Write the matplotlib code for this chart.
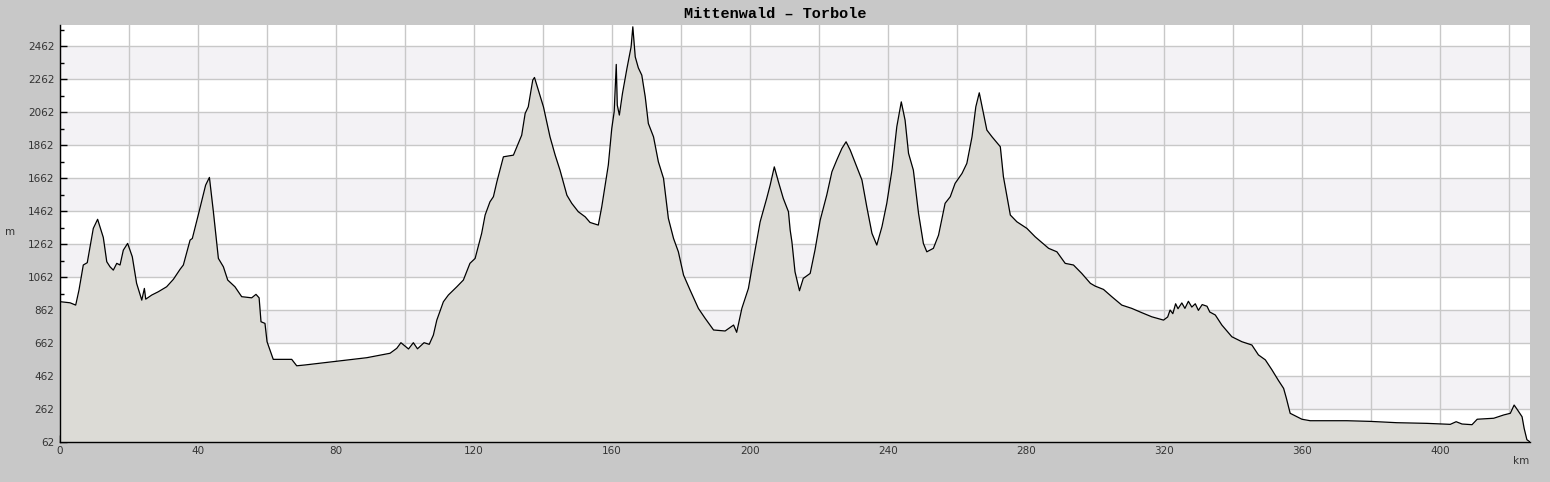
import matplotlib
matplotlib.use("Agg")
import matplotlib.pyplot as plt
from matplotlib.ticker import FixedLocator

# elevation profile (km, m)
km = [0.0, 0.3, 2.9, 4.55, 5.5, 6.75, 7.9, 8.7, 9.65, 10.9, 12.55, 13.55, 14.5, 15.45,
      16.45, 17.4, 18.35, 19.6, 20.95, 22.2, 23.7, 24.45, 24.85, 26.6, 28.5, 30.9,
      32.85, 34.8, 35.75, 37.7, 38.35, 40.3, 42.2, 43.3, 44.45, 45.9, 47.35, 48.6,
      50.7, 52.65, 55.55, 56.8, 57.7, 58.25, 59.4, 60.0, 61.8, 67.15, 68.6, 71.0,
      79.2, 88.9, 95.65, 97.6, 98.8, 101.0, 102.4, 103.6, 105.5, 107.0, 108.2,
      109.2, 111.1, 112.55, 115.0, 116.9, 118.8, 120.3, 122.2, 123.2, 124.6, 125.6,
      126.6, 128.5, 131.4, 133.8, 134.8, 135.7, 137.0, 137.5, 140.1, 142.0, 143.5,
      144.9, 146.9, 148.3, 150.2, 152.2, 153.6, 156.0, 157.0, 158.0, 158.9, 159.9,
      160.6, 161.2, 161.5, 162.1, 163.0, 164.3, 165.5, 166.0, 166.7, 167.6, 168.6,
      169.6, 170.5, 172.0, 173.4, 174.9, 176.3, 177.8, 179.2, 180.7, 182.6, 185.0,
      186.95, 189.4, 192.75, 195.2, 196.1, 197.6, 199.5, 201.0, 202.9, 204.8,
      205.8, 207.0, 208.2, 209.6, 211.1, 211.6, 212.1, 213.0, 214.3, 215.4, 217.4,
      218.8, 220.3, 222.2, 223.7, 225.1, 226.6, 227.8, 229.0, 230.9, 232.4, 233.8,
      235.3, 236.7, 238.2, 239.6, 241.1, 242.5, 243.8, 244.9, 245.9, 247.3, 248.8,
      250.2, 251.2, 253.1, 254.6, 256.5, 258.0, 259.4, 261.4, 262.8, 264.3, 265.4,
      266.4, 267.6, 268.6, 270.1, 272.5, 273.4, 275.4, 277.3, 280.2, 282.6, 286.5,
      288.9, 291.3, 293.7, 296.1, 298.6, 300.0, 302.4, 304.8, 307.7, 310.6, 313.5,
      316.4, 319.8, 321.0, 321.7, 322.5, 323.3, 324.0, 325.1, 326.0, 327.0, 328.0,
      329.0, 329.9, 331.0, 332.4, 333.2, 334.8, 336.7, 339.6, 342.5, 345.4, 347.3,
      349.3, 351.2, 353.1, 354.6, 355.4, 356.5, 358.0, 359.9, 362.3, 368.1, 372.9,
      379.7, 387.4, 396.1, 402.9, 404.6, 406.3, 409.2, 410.7, 415.5, 418.4, 420.3,
      421.4, 422.4, 423.7, 424.3, 425.1, 425.9]
elev = [912, 912, 906, 892, 983, 1135, 1149, 1245, 1357, 1412, 1302, 1155, 1124, 1104,
        1145, 1135, 1225, 1266, 1185, 1024, 922, 993, 928, 953, 973, 1003,
        1048, 1109, 1135, 1286, 1296, 1458, 1619, 1666, 1458, 1175, 1124, 1044,
        1003, 943, 936, 957, 936, 791, 781, 670, 563, 563, 524, 529,
        549, 573, 600, 630, 664, 626, 664, 627, 664, 654, 710,
        801, 912, 953, 1003, 1044, 1145, 1175, 1327, 1438, 1518, 1549,
        1639, 1791, 1801, 1922, 2054, 2094, 2256, 2272, 2094, 1912, 1801,
        1710, 1558, 1509, 1458, 1427, 1393, 1377, 1488, 1619, 1741, 1963,
        2064, 2351, 2104, 2044, 2175, 2327, 2457, 2579, 2397, 2330, 2286,
        2154, 1993, 1912, 1761, 1660, 1418, 1296, 1215, 1074, 983, 872,
        812, 741, 735, 771, 727, 872, 993, 1175, 1397, 1539,
        1619, 1730, 1639, 1539, 1458, 1347, 1276, 1094, 979, 1054, 1084,
        1226, 1407, 1559, 1700, 1771, 1842, 1882, 1832, 1730, 1650, 1488,
        1327, 1256, 1367, 1509, 1710, 1973, 2124, 2013, 1812, 1710, 1448,
        1266, 1215, 1236, 1316, 1509, 1549, 1630, 1690, 1751, 1912, 2094,
        2179, 2054, 1953, 1912, 1852, 1670, 1438, 1397, 1357, 1306, 1236,
        1215, 1145, 1135, 1084, 1024, 1007, 987, 943, 892, 872, 846,
        821, 801, 820, 862, 840, 900, 870, 905, 872, 915, 880,
        900, 860, 895, 885, 850, 832, 771, 700, 670, 650, 590,
        560, 500, 435, 387, 327, 236, 220, 200, 191, 191, 191,
        187, 179, 175, 169, 185, 171, 167, 200, 206, 226, 236,
        286, 256, 215, 145, 76, 64]

title = "Mittenwald \u2013 Torbole"
y_ticks = list(range(62, 2590, 200))
x_ticks = list(range(0, 426, 20))
x_labels = [str(v) if v % 40 == 0 else "" for v in x_ticks]

fig = plt.figure(figsize=(15.5, 4.82), dpi=100, facecolor="#c8c8c8")
ax = fig.add_axes([60 / 1550, 40 / 482, 1470 / 1550, 417 / 482])
ax.set_facecolor("white")

# alternating horizontal bands
for i, lo in enumerate(y_ticks):
    if i % 2 == 1:
        ax.axhspan(lo, lo + 200, color="#f3f2f5", zorder=0, lw=0)

ax.set_axisbelow(True)
ax.grid(True, which="major", color="#c8c8c8", lw=1)

ax.fill_between(km, elev, 62, color="#dcdbd6", lw=0, zorder=2)
ax.plot(km, elev, color="black", lw=0.9, zorder=3)

ax.set_xlim(0, 426)
ax.set_ylim(62, 2590)
ax.xaxis.set_major_locator(FixedLocator(x_ticks))
ax.set_xticklabels(x_labels)
ax.xaxis.set_minor_locator(FixedLocator(list(range(10, 426, 20))))
ax.yaxis.set_major_locator(FixedLocator(y_ticks))
ax.yaxis.set_minor_locator(FixedLocator(list(range(162, 2590, 200))))

ax.tick_params(which="both", direction="in", colors="black", labelcolor="#333333",
               labelsize=7.5)
ax.tick_params(which="major", length=5, width=1)
ax.tick_params(which="minor", length=3, width=1)
ax.tick_params(axis="x", pad=3)
ax.tick_params(axis="y", pad=4)

for s in ["top", "right"]:
    ax.spines[s].set_visible(False)
for s in ["left", "bottom"]:
    ax.spines[s].set_color("black")
    ax.spines[s].set_linewidth(1)

fig.text(775 / 1550, 1 - 14 / 482, title, ha="center", va="center",
         family="Liberation Mono", weight="bold", fontsize=11)
fig.text(10 / 1550, 1 - 232 / 482, "m", ha="center", va="center",
         fontsize=7.5, color="#333333")
fig.text(1521 / 1550, 1 - 461 / 482, "km", ha="center", va="center",
         fontsize=7.5, color="#333333")

fig.savefig("out.png", dpi=100, facecolor=fig.get_facecolor())
